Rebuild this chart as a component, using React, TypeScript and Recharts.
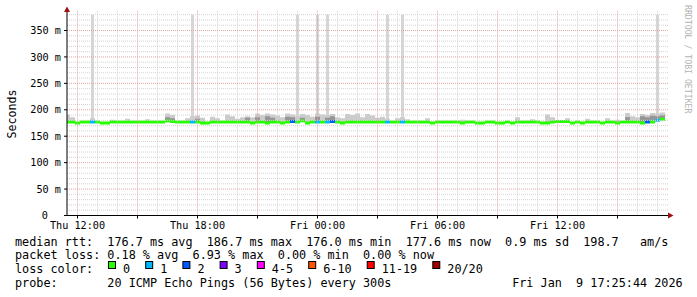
import React from "react"
import { ComposedChart, Bar, Cell, XAxis, YAxis, ReferenceLine } from "recharts"

// 15 minute samples starting Thu 11:30 (hours since Thu 00:00)
const startHour = 11.5
const stepHours = 0.25

const median = [
  177, 177, 175, 177, 177, 177, 177, 175, 175, 177,
  177, 177, 177, 177, 177, 177, 177, 177, 177, 177,
  179, 178, 177, 177, 177, 177, 177, 175, 175, 177,
  177, 177, 177, 177, 177, 177, 177, 175, 177, 177,
  175, 177, 177, 175, 177, 178, 177, 179, 175, 177,
  177, 177, 177, 178, 177, 175, 177, 177, 177, 177,
  177, 177, 177, 177, 177, 177, 177, 177, 177, 177,
  177, 177, 177, 175, 177, 177, 177, 177, 177, 175,
  177, 177, 175, 175, 177, 177, 175, 175, 177, 175,
  177, 177, 177, 177, 177, 175, 175, 177, 178, 178,
  178, 175, 177, 175, 177, 177, 177, 175, 177, 177,
  175, 177, 177, 177, 177, 175, 177, 177, 180, 182,
]

// lost pings per sample, index into lossColors
const loss = [
  0, 0, 0, 0, 0, 1, 0, 0, 0, 0,
  0, 0, 0, 0, 0, 0, 0, 0, 0, 0,
  0, 0, 0, 0, 0, 1, 0, 0, 0, 0,
  0, 0, 0, 0, 0, 0, 0, 0, 0, 0,
  0, 0, 0, 0, 0, 2, 0, 0, 0, 0,
  1, 0, 1, 2, 0, 0, 0, 0, 0, 0,
  0, 0, 0, 0, 1, 0, 0, 1, 0, 0,
  0, 0, 0, 0, 0, 0, 0, 0, 0, 0,
  0, 0, 0, 0, 0, 0, 0, 0, 0, 0,
  0, 0, 0, 0, 0, 0, 0, 0, 0, 0,
  0, 0, 0, 0, 0, 0, 0, 0, 0, 0,
  0, 0, 0, 0, 0, 0, 2, 0, 1, 0,
]

// upper edge of the light smoke (0 = none)
const smokeHi = [
  191, 186, 0, 0, 0, 184, 0, 0, 0, 181,
  0, 0, 183, 0, 0, 0, 182, 0, 0, 0,
  193, 190, 0, 0, 184, 188, 189, 185, 0, 187,
  184, 0, 191, 188, 183, 186, 188, 186, 193, 190,
  193, 191, 189, 186, 193, 191, 188, 192, 190, 187,
  193, 191, 190, 192, 186, 184, 192, 190, 193, 186,
  192, 189, 185, 187, 183, 0, 184, 186, 182, 0,
  0, 0, 184, 0, 0, 0, 0, 0, 0, 181,
  0, 0, 0, 0, 0, 0, 0, 0, 0, 0,
  186, 0, 0, 182, 0, 0, 191, 186, 0, 0,
  184, 0, 0, 0, 183, 0, 0, 0, 184, 0,
  181, 0, 194, 188, 186, 192, 190, 194, 193, 195,
]

// upper edge of the dark smoke (0 = none)
const smokeMid = [
  0, 0, 0, 0, 0, 0, 0, 0, 0, 0,
  0, 0, 0, 0, 0, 0, 0, 0, 0, 0,
  186, 184, 0, 0, 0, 0, 183, 0, 0, 0,
  0, 0, 0, 0, 0, 0, 185, 0, 186, 0,
  188, 185, 0, 0, 187, 186, 0, 185, 0, 0,
  187, 0, 185, 188, 0, 0, 0, 0, 0, 0,
  0, 0, 0, 0, 0, 0, 0, 0, 0, 0,
  0, 0, 0, 0, 0, 0, 0, 0, 0, 0,
  0, 0, 0, 0, 0, 0, 0, 0, 0, 0,
  0, 0, 0, 0, 0, 0, 0, 0, 0, 0,
  0, 0, 0, 0, 0, 0, 0, 0, 0, 0,
  0, 0, 186, 0, 0, 188, 186, 189, 188, 190,
]

// timeouts reaching the top of the graph (0 = none)
const spikeTop = [
  0, 0, 0, 0, 0, 380, 0, 0, 0, 0,
  0, 0, 0, 0, 0, 0, 0, 0, 0, 0,
  0, 0, 0, 0, 0, 380, 0, 0, 0, 0,
  0, 0, 0, 0, 0, 0, 0, 0, 0, 0,
  0, 0, 0, 0, 0, 0, 380, 0, 0, 0,
  380, 0, 380, 0, 0, 0, 0, 0, 0, 0,
  0, 0, 0, 0, 380, 0, 0, 380, 0, 0,
  0, 0, 0, 0, 0, 0, 0, 0, 0, 0,
  0, 0, 0, 0, 0, 0, 0, 0, 0, 0,
  0, 0, 0, 0, 0, 0, 0, 0, 0, 0,
  0, 0, 0, 0, 0, 0, 0, 0, 0, 0,
  0, 0, 0, 0, 0, 0, 0, 0, 380, 0,
]

const xTicks = [12, 15, 18, 21, 24, 27, 30, 33, 36, 39]
const xLabels: Record<number, string> = {
  12: "Thu 12:00",
  18: "Thu 18:00",
  24: "Fri 00:00",
  30: "Fri 06:00",
  36: "Fri 12:00",
}
const hourLines = Array.from({ length: 30 }, (_, i) => 12 + i)
const yTicks = [0, 50, 100, 150, 200, 250, 300, 350]
const yMinor = Array.from({ length: 38 }, (_, i) => (i + 1) * 10)

const lossColors = ["#26ff00", "#00b8ff", "#0059ff", "#7e00ff", "#ff00ff", "#ff5500", "#ff0000", "#a10000"]
const lossLabels = ["0", "1", "2", "3", "4-5", "6-10", "11-19", "20/20"]

const legendLines = [
  "median rtt:  176.7 ms avg  186.7 ms max  176.0 ms min  177.6 ms now  0.9 ms sd  198.7   am/s",
  "packet loss: 0.18 % avg  6.93 % max  0.00 % min  0.00 % now",
  "loss color:",
  "probe:       20 ICMP Echo Pings (56 Bytes) every 300s                 Fri Jan  9 17:25:44 2026",
]

const xDomain: [number, number] = [11.475, 41.525]
const yDomain: [number, number] = [0, 388.8]
const mono = "'DejaVu Sans Mono', monospace"
const charW = 7.1
const bandHalf = 2.8

const rows = median.map((m, i) => ({
  t: startHour + i * stepHours,
  loss: loss[i],
  med: [m - bandHalf, m + bandHalf],
  hi: smokeHi[i] ? [m, smokeHi[i]] : null,
  mid: smokeMid[i] ? [m, smokeMid[i]] : null,
  spike: spikeTop[i] ? [m, spikeTop[i]] : null,
}))

const YTick = (props: any) => {
  const { x, y, payload } = props
  const v = payload.value
  return (
    <text x={v === 0 ? x - 14 : x - 1} y={y + 3.6} textAnchor="end" fontFamily={mono} fontSize={10.2} fill="#000">
      {v === 0 ? "0" : `${v} m`}
    </text>
  )
}

const XTick = (props: any) => {
  const { x, y, payload } = props
  const label = xLabels[payload.value]
  if (!label) return null
  return (
    <text x={x} y={y + 8} textAnchor="middle" fontFamily={mono} fontSize={10.2} fill="#000">
      {label}
    </text>
  )
}

export default function App() {
  let lx = 108
  const legendItems = lossLabels.map((label, i) => {
    const x = lx
    lx += (label.length + 4) * charW + 1.7
    return { x, label, color: lossColors[i] }
  })

  return (
    <div style={{ position: "absolute", left: 0, top: 0, width: 697, height: 297, background: "#fff" }}>
      <ComposedChart
        width={697}
        height={297}
        data={rows}
        barCategoryGap={0}
        barGap={0}
        margin={{ top: 10, right: 29, bottom: 0, left: 0 }}
      >
        <XAxis
          dataKey="t"
          type="number"
          domain={xDomain}
          allowDataOverflow
          ticks={xTicks}
          interval={0}
          height={81.5}
          tickSize={3}
          tickMargin={2}
          tick={<XTick />}
          axisLine={{ stroke: "#000" }}
          tickLine={{ stroke: "#000" }}
        />
        <XAxis xAxisId="spike" dataKey="t" type="number" domain={xDomain} allowDataOverflow hide />
        <XAxis xAxisId="hi" dataKey="t" type="number" domain={xDomain} allowDataOverflow hide />
        <XAxis xAxisId="mid" dataKey="t" type="number" domain={xDomain} allowDataOverflow hide />
        <YAxis
          type="number"
          domain={yDomain}
          allowDataOverflow
          ticks={yTicks}
          interval={0}
          width={67}
          tickSize={3}
          tickMargin={2}
          tick={<YTick />}
          axisLine={{ stroke: "#000" }}
          tickLine={{ stroke: "#000" }}
        />
        {yMinor.filter((v) => v % 50 !== 0).map((v) => (
          <ReferenceLine key={`ym${v}`} y={v} stroke="#d2d2d2" strokeDasharray="1 1" />
        ))}
        {hourLines.filter((h) => h % 3 !== 0).map((h) => (
          <ReferenceLine key={`xm${h}`} x={h} stroke="#d2d2d2" strokeDasharray="1 1" />
        ))}
        {yMinor.filter((v) => v % 50 === 0).map((v) => (
          <ReferenceLine key={`yM${v}`} y={v} stroke="#e4a4a4" strokeDasharray="1 1" />
        ))}
        {hourLines.filter((h) => h % 3 === 0).map((h) => (
          <ReferenceLine key={`xM${h}`} x={h} stroke="#e4a4a4" strokeDasharray="1 1" />
        ))}
        <Bar xAxisId="spike" dataKey="spike" barSize={3} fill="#d6d6d6" isAnimationActive={false} />
        <Bar xAxisId="hi" dataKey="hi" fill="#cbcbcb" isAnimationActive={false} />
        <Bar xAxisId="mid" dataKey="mid" fill="#959595" isAnimationActive={false} />
        <Bar dataKey="med" isAnimationActive={false}>
          {rows.map((r, i) => (
            <Cell key={i} fill={lossColors[r.loss]} />
          ))}
        </Bar>
      </ComposedChart>
      <svg width={697} height={297} style={{ position: "absolute", left: 0, top: 0, pointerEvents: "none" }}>
        <polygon points="64,12 70,12 67,6.5" fill="#a01010" />
        <polygon points="668,212.5 668,218.5 673.5,215.5" fill="#a01010" />
        <text
          x={15.5}
          y={114}
          transform="rotate(-90 15.5 114)"
          textAnchor="middle"
          fontFamily={mono}
          fontSize={11.6}
          fill="#000"
        >
          Seconds
        </text>
        <text
          x={685}
          y={5}
          transform="rotate(90 685 5)"
          fontFamily={mono}
          fontSize={8.2}
          fill="#b4b4b4"
        >
          RRDTOOL / TOBI OETIKER
        </text>
        {legendLines.map((line, i) => (
          <text
            key={i}
            x={15}
            y={245.5 + i * 13.8}
            fontFamily={mono}
            fontSize={11.8}
            fill="#000"
            style={{ whiteSpace: "pre" }}
          >
            {line}
          </text>
        ))}
        {legendItems.map((it) => (
          <g key={it.label}>
            <rect x={it.x + 0.5} y={261.5} width={7} height={7} fill={it.color} stroke="#000" strokeWidth={1} />
            <text x={it.x + 15} y={273.1} fontFamily={mono} fontSize={11.8} fill="#000">
              {it.label}
            </text>
          </g>
        ))}
      </svg>
    </div>
  )
}
